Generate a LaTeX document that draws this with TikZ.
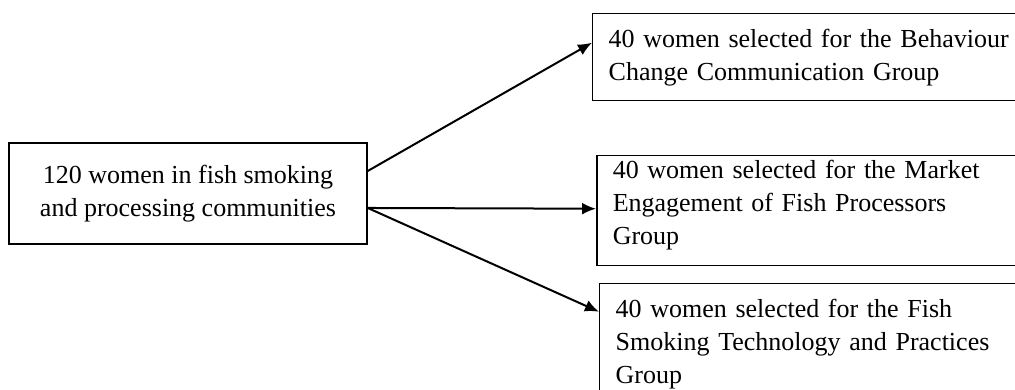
\documentclass[tikz,border=0pt]{standalone}
\usepackage{fontspec}
\setmainfont{Liberation Serif}
\usetikzlibrary{arrows.meta}
\begin{document}
\begin{tikzpicture}[
    srcbox/.style={draw,line width=0.75pt,minimum width=179pt,minimum height=50.5pt,
      align=center,font=\fontsize{13pt}{16.5pt}\selectfont},
    grpbox/.style={draw,line width=0.75pt,anchor=north west,text width=215pt,
      inner xsep=8pt,align=left,font=\fontsize{13pt}{16.5pt}\selectfont},
    pick/.style={-{Latex[length=7pt,width=6pt]},line width=1pt},
  ]
  \useasboundingbox (0,0) rectangle (17.837,6.853);
  \node[srcbox] (women) at (3.304,3.453) {120 women in fish smoking\\and processing communities};
  \node[grpbox,minimum height=43.5pt] (bcc) at (10.403,6.625)
    {40 women selected for the Behaviour\\Change Communication Group};
  \node[grpbox,minimum height=55pt,inner ysep=0pt] (mef) at (10.474,4.130)
    {40 women selected for the Market\\Engagement of Fish Processors\\Group\par\kern6pt\hrule height 0pt};
  \node[grpbox,minimum height=60pt] (fst) at (10.526,1.880)
    {40 women selected for the Fish\\Smoking Technology and Practices\\Group};
%  three groups of forty
  \draw[pick] ([yshift=11.25pt]women.east) -- ([yshift=7.25pt]bcc.west);
  \draw[pick] ([yshift=-7.25pt]women.east) -- ([yshift=1pt]mef.west);
  \draw[pick] ([yshift=-7.25pt]women.east) -- ([yshift=16pt]fst.west);
\end{tikzpicture}
\end{document}
